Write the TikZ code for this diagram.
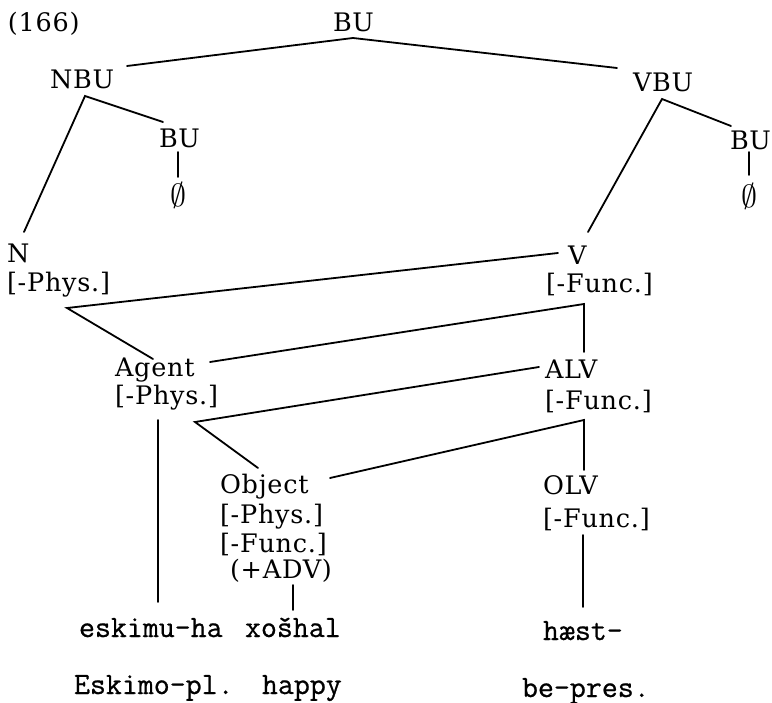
\RequirePackage{fix-cm}
\documentclass[tikz,border=0pt]{standalone}
\usepackage{fontspec}
\newfontfamily\labfont[LetterSpace=3]{DejaVu Serif}
\newfontfamily\glfont[FakeBold=0.7]{Latin Modern Mono}
\begin{document}
\begin{tikzpicture}[x=1pt,y=-1pt,
  lab/.style={anchor=base west, inner sep=0pt, outer sep=0pt, font=\labfont\fontsize{25.5}{30}\selectfont},
  gl/.style={anchor=base west, inner sep=0pt, outer sep=0pt, font=\glfont\fontsize{31}{35}\selectfont},
  nul/.style={anchor=center, inner sep=0pt, font=\fontsize{32}{36}\selectfont},
  br/.style={line width=1.8pt, line cap=round}]
\useasboundingbox (0,0) rectangle (772,703);
% labels
\node[lab] (num) at (8,32) {(166)};
\node[lab] (bu0) at (333,32) {BU};
\node[lab] (nbu) at (50,89) {NBU};
\node[lab] (vbu) at (633,92) {VBU};
\node[lab] (bul) at (159,148) {BU};
\node[lab] (bur) at (730,150) {BU};
\node[nul] (nl) at (178,195) {$\emptyset$};
\node[nul] (nr) at (749,196) {$\emptyset$};
\node[lab] (n) at (7,263) {N};
\node[lab] (nf) at (7,292) {[-Phys.]};
\node[lab] (v) at (568,265) {V};
\node[lab] (vf) at (546,293) {[-Func.]};
\node[lab] (ag) at (115,377) {Agent};
\node[lab] (agf) at (115,405) {[-Phys.]};
\node[lab] (alv) at (545,379) {ALV};
\node[lab] (alvf) at (545,410) {[-Func.]};
\node[lab] (ob) at (220,494) {Object};
\node[lab] (obf1) at (220,523) {[-Phys.]};
\node[lab] (obf2) at (220,552) {[-Func.]};
\node[lab] (obf3) at (230,579) {(+ADV)};
\node[lab] (olv) at (543,495) {OLV};
\node[lab] (olvf) at (543,527) {[-Func.]};
% glosses
\node[gl] (w1) at (79,637) {eskimu-ha};
\node[gl] (w2) at (245,637) {xošhal};
\node[gl] (w3) at (543,640) {hæst-};
\node[gl] (g1) at (74,694) {Eskimo-pl.};
\node[gl] (g2) at (262,694) {happy};
\node[gl] (g3) at (522,697) {be-pres.};
% branch points
\coordinate (j0) at (353,38);
\coordinate (j0l) at (127,66);
\coordinate (j0r) at (617,68);
\coordinate (jn) at (85,96);
\coordinate (jnr) at (163,122);
\coordinate (jnd) at (24,232);
\coordinate (jv) at (662,99);
\coordinate (jvr) at (731,126);
\coordinate (jvd) at (588,232);
\coordinate (jN) at (67,308);
\coordinate (jNr) at (558,253);
\coordinate (jNd) at (153,359);
\coordinate (jV) at (584,304);
\coordinate (jVl) at (210,362);
\coordinate (jVd) at (584,352);
\coordinate (jA) at (195,422);
\coordinate (jAr) at (539,367);
\coordinate (jAd) at (258,468);
\coordinate (jL) at (584,420);
\coordinate (jLl) at (330,478);
\coordinate (jLd) at (584,470);
\coordinate (jAg1) at (158,420);
\coordinate (jAg2) at (158,602);
\coordinate (jOb1) at (293,585);
\coordinate (jOb2) at (293,610);
\coordinate (jO1) at (583,535);
\coordinate (jO2) at (583,607);
\coordinate (jb1) at (178,152);
\coordinate (jb2) at (178,177);
\coordinate (jc1) at (749,152);
\coordinate (jc2) at (749,175);
% connectors
\draw[br] (j0l) -- (j0) -- (j0r);
\draw[br] (jnd) -- (jn) -- (jnr);
\draw[br] (jb1) -- (jb2);
\draw[br] (jvd) -- (jv) -- (jvr);
\draw[br] (jc1) -- (jc2);
\draw[br] (jNr) -- (jN) -- (jNd);
\draw[br] (jVl) -- (jV) -- (jVd);
\draw[br] (jAr) -- (jA) -- (jAd);
\draw[br] (jLl) -- (jL) -- (jLd);
\draw[br] (jAg1) -- (jAg2);
\draw[br] (jOb1) -- (jOb2);
\draw[br] (jO1) -- (jO2);
\end{tikzpicture}
\end{document}
